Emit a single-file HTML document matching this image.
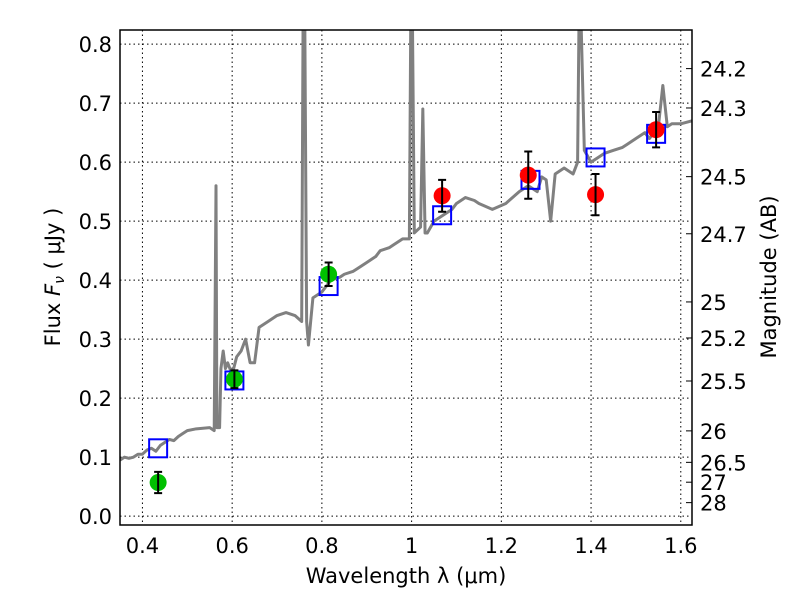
<!DOCTYPE html>
<html><head><meta charset="utf-8"><style>body{margin:0;background:#fff}svg text{font-family:"DejaVu Sans","Liberation Sans",sans-serif;fill:#000}</style></head>
<body>
<svg id="chart" width="800" height="600"></svg>
<script>
const specWave=[0.35,0.36,0.37,0.38,0.39,0.40,0.41,0.42,0.43,0.44,0.45,0.46,0.47,0.48,0.49,0.50,0.52,0.55,0.56,0.564,0.566,0.568,0.572,0.575,0.58,0.585,0.59,0.60,0.61,0.62,0.63,0.64,0.65,0.66,0.68,0.70,0.72,0.74,0.755,0.758,0.762,0.766,0.77,0.78,0.80,0.82,0.84,0.85,0.87,0.88,0.90,0.92,0.93,0.95,0.96,0.98,0.995,0.998,1.002,1.006,1.02,1.025,1.03,1.035,1.05,1.07,1.09,1.10,1.12,1.14,1.15,1.18,1.21,1.24,1.26,1.28,1.29,1.30,1.31,1.32,1.34,1.36,1.37,1.373,1.378,1.385,1.40,1.42,1.43,1.45,1.47,1.48,1.50,1.52,1.53,1.55,1.56,1.57,1.58,1.60,1.625];
const specFlux=[0.095,0.10,0.098,0.10,0.105,0.105,0.112,0.115,0.11,0.12,0.125,0.13,0.128,0.135,0.14,0.145,0.148,0.15,0.145,0.56,0.15,0.15,0.15,0.25,0.28,0.25,0.26,0.24,0.27,0.28,0.30,0.26,0.26,0.32,0.33,0.34,0.345,0.34,0.33,0.83,0.83,0.33,0.29,0.37,0.38,0.40,0.405,0.41,0.415,0.42,0.43,0.44,0.45,0.455,0.46,0.47,0.47,0.83,0.83,0.48,0.49,0.69,0.48,0.48,0.50,0.51,0.52,0.53,0.54,0.535,0.53,0.52,0.53,0.55,0.56,0.55,0.575,0.57,0.50,0.58,0.59,0.58,0.60,0.83,0.83,0.62,0.60,0.61,0.615,0.62,0.625,0.63,0.64,0.65,0.64,0.66,0.73,0.66,0.665,0.665,0.67];
const greenWave=[0.435,0.605,0.815];
const greenFlux=[0.057,0.232,0.41];
const greenErr=[0.018,0.015,0.02];
const redWave=[1.068,1.26,1.41,1.545];
const redFlux=[0.543,0.578,0.545,0.655];
const redErr=[0.027,0.04,0.035,0.03];
const modelWave=[0.435,0.605,0.815,1.068,1.265,1.41,1.545];
const modelFlux=[0.115,0.23,0.39,0.51,0.57,0.608,0.648];
const xTicks=[0.4,0.6,0.8,1.0,1.2,1.4,1.6];
const xTickLabels=["0.4","0.6","0.8","1","1.2","1.4","1.6"];
const yTicks=[0,0.1,0.2,0.3,0.4,0.5,0.6,0.7,0.8];
const yTickLabels=["0.0","0.1","0.2","0.3","0.4","0.5","0.6","0.7","0.8"];
const magTicks=[24.2,24.3,24.5,24.7,25,25.2,25.5,26,26.5,27,28];

const L=120,R=692,T=30,B=525,X0=0.35,X1=1.625,Y0=-0.015,Y1=0.824;
const sx=v=>L+(v-X0)/(X1-X0)*(R-L);
const sy=v=>B-(v-Y0)/(Y1-Y0)*(B-T);
const NS="http://www.w3.org/2000/svg";
const svg=document.getElementById('chart');
function mk(tag,attrs,parent){const e=document.createElementNS(NS,tag);for(const k in attrs)e.setAttribute(k,attrs[k]);(parent||svg).appendChild(e);return e;}
const defs=mk('defs',{});const cp=mk('clipPath',{id:'c'},defs);mk('rect',{x:L,y:T,width:R-L,height:B-T},cp);
const FS=21;
xTicks.forEach((t,i)=>{
 const g=mk('line',{x1:sx(t),x2:sx(t),y1:T,y2:B,stroke:'#000','stroke-dasharray':'1.5,3','stroke-width':1});
 
 
 const tx=mk('text',{x:sx(t),y:B+28,'text-anchor':'middle','font-size':FS});tx.textContent=xTickLabels[i];
 
 
});
yTicks.forEach((t,i)=>{
 const g=mk('line',{x1:L,x2:R,y1:sy(t),y2:sy(t),stroke:'#000','stroke-dasharray':'1.5,3','stroke-width':1});
 
 
 const tx=mk('text',{x:L-8,y:sy(t)+8,'text-anchor':'end','font-size':FS});tx.textContent=yTickLabels[i];
 
 
});
magTicks.forEach(m=>{
 const f=Math.pow(10,(23.9-m)/2.5);const y=sy(f);
 const tk=mk('line',{x1:R-6,x2:R,y1:y,y2:y,stroke:'#000'});
 
 
 const tx=mk('text',{x:R+8,y:y+8,'font-size':FS});tx.textContent=String(m);
 
 
});

const sp=mk('polyline',{points:specWave.map((w,i)=>sx(w)+','+sy(specFlux[i])).join(' '),fill:'none',stroke:'#808080','stroke-width':3,'stroke-linejoin':'round','clip-path':'url(#c)'});



modelWave.forEach((w,i)=>{
 const r=mk('rect',{x:sx(w)-9,y:sy(modelFlux[i])-9,width:18,height:18,fill:'none',stroke:'#0000ff','stroke-width':2});
 
 
});
function pts(ws,fs,es,col,name){ws.forEach((w,i)=>{
 const c=mk('circle',{cx:sx(w),cy:sy(fs[i]),r:8.5,fill:col});
 
 
 const x=sx(w),y1=sy(fs[i]-es[i]),y2=sy(fs[i]+es[i]);
 const e=mk('path',{d:`M${x},${y1}V${y2}M${x-4},${y1}H${x+4}M${x-4},${y2}H${x+4}`,stroke:'#000','stroke-width':2,fill:'none'});
 
 
});}
pts(greenWave,greenFlux,greenErr,'#00c000','green-photometry-point');
pts(redWave,redFlux,redErr,'#ff0000','red-photometry-point');

const fr=mk('rect',{x:L,y:T,width:R-L,height:B-T,fill:'none',stroke:'#000','stroke-width':1.5});


const xl=mk('text',{x:406,y:583,'text-anchor':'middle','font-size':FS});xl.textContent='Wavelength  λ (μm)';


const yl=mk('text',{x:0,y:0,'text-anchor':'middle','font-size':FS,transform:'translate(60,277) rotate(-90)'});yl.innerHTML='Flux  <tspan font-style="italic">F</tspan><tspan font-size="14" dy="4" font-style="italic">ν</tspan><tspan dy="-4">  ( μJy )</tspan>';


const rl=mk('text',{x:0,y:0,'text-anchor':'middle','font-size':FS,transform:'translate(776,277) rotate(-90)'});rl.textContent='Magnitude (AB)';


</script>
</body></html>
